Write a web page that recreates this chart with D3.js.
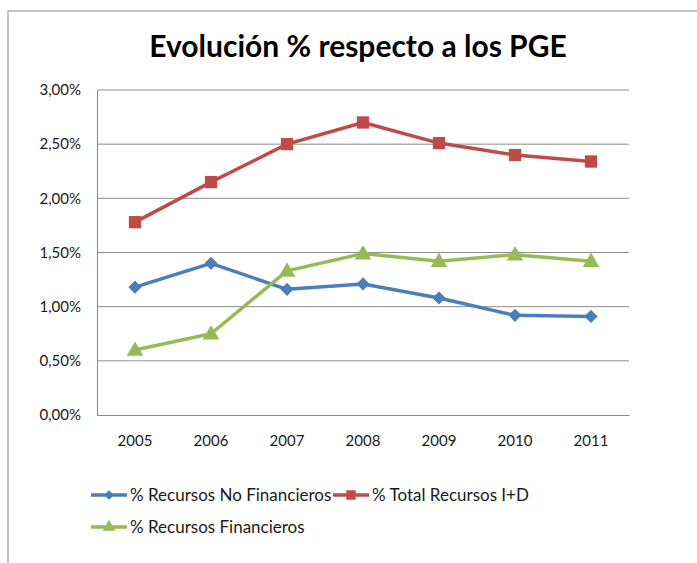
<!DOCTYPE html>
<html>
<head>
<meta charset="utf-8">
<script src="https://cdn.jsdelivr.net/npm/d3@7"></script>
<style>
  body { margin: 0; background: #fff; }
  text { font-family: Lato, "Open Sans", sans-serif; fill: #1a1a1a; }
</style>
</head>
<body>
<script>
const years = ["2005", "2006", "2007", "2008", "2009", "2010", "2011"];
const noFinancieros = [1.18, 1.40, 1.16, 1.21, 1.08, 0.92, 0.91];
const totalID = [1.78, 2.15, 2.50, 2.70, 2.51, 2.40, 2.34];
const financieros = [0.60, 0.75, 1.33, 1.49, 1.42, 1.48, 1.42];
const yTicks = [0, 0.5, 1, 1.5, 2, 2.5, 3];

const series = [
  { name: "% Recursos No Financieros", values: noFinancieros, color: "#4a7ebb", marker: "diamond" },
  { name: "% Total Recursos I+D", values: totalID, color: "#be4b48", marker: "square" },
  { name: "% Recursos Financieros", values: financieros, color: "#98b954", marker: "triangle" }
];

const width = 697, height = 563;
const plot = { left: 97, top: 90, right: 629, bottom: 415 };

const svg = d3.select("body").append("svg")
  .attr("width", width)
  .attr("height", height);

// chart frame
svg.append("rect")
  .attr("x", 8).attr("y", 11)
  .attr("width", 720).attr("height", 600)
  .attr("fill", "none")
  .attr("stroke", "#b0b0b0")
  .attr("stroke-width", 1.5);

svg.append("text")
  .attr("x", 358).attr("y", 57)
  .attr("text-anchor", "middle")
  .style("font-size", "30px")
  .style("font-weight", "bold")
  .style("fill", "#000")
  .text("Evolución % respecto a los PGE");

const x = d3.scaleBand().domain(years).range([plot.left, plot.right]);
const y = d3.scaleLinear().domain([0, 3]).range([plot.bottom, plot.top]);

const fmt = v => d3.format(".2f")(v).replace(".", ",") + "%";

// gridlines
svg.append("g").selectAll("line")
  .data(yTicks.filter(d => d > 0))
  .join("line")
  .attr("x1", plot.left).attr("x2", plot.right)
  .attr("y1", d => y(d)).attr("y2", d => y(d))
  .attr("stroke", "#8c8c8c")
  .attr("stroke-width", 1);

const yAxis = svg.append("g")
  .attr("transform", `translate(${plot.left},0)`)
  .call(d3.axisLeft(y).tickValues(yTicks).tickFormat(fmt).tickSize(0).tickPadding(16));
yAxis.select(".domain").attr("stroke", "#868686");
yAxis.selectAll("text").style("font-size", "15px").style("font-family", "Lato, sans-serif").attr("fill", "#1a1a1a");

const xAxis = svg.append("g")
  .attr("transform", `translate(0,${plot.bottom})`)
  .call(d3.axisBottom(x).tickSize(0).tickPadding(20));
xAxis.select(".domain").attr("stroke", "#868686");
xAxis.selectAll("text").style("font-size", "15px").style("font-family", "Lato, sans-serif").attr("fill", "#1a1a1a");

const cx = d => x(d) + x.bandwidth() / 2;

const symbolFor = {
  diamond: d3.symbol().type(d3.symbolDiamond2).size(110),
  square: d3.symbol().type(d3.symbolSquare).size(150),
  triangle: d3.symbol().type(d3.symbolTriangle).size(120)
};

const line = d3.line().x(d => cx(d.year)).y(d => y(d.v));

series.forEach(s => {
  const pts = years.map((yr, i) => ({ year: yr, v: s.values[i] }));
  svg.append("path")
    .datum(pts)
    .attr("d", line)
    .attr("fill", "none")
    .attr("stroke", s.color)
    .attr("stroke-width", 3.5)
    .attr("stroke-linejoin", "round");
  svg.append("g").selectAll("path")
    .data(pts)
    .join("path")
    .attr("transform", d => `translate(${cx(d.year)},${y(d.v) + (s.marker === "triangle" ? 1 : 0)})`)
    .attr("d", symbolFor[s.marker]())
    .attr("fill", s.color);
});

// legend
const legendPos = [
  { x: 91, y: 495 },
  { x: 333, y: 495 },
  { x: 91, y: 527 }
];
const legendSym = {
  diamond: d3.symbol().type(d3.symbolDiamond2).size(60),
  square: d3.symbol().type(d3.symbolSquare).size(90),
  triangle: d3.symbol().type(d3.symbolTriangle).size(70)
};
series.forEach((s, i) => {
  const g = svg.append("g").attr("transform", `translate(${legendPos[i].x},${legendPos[i].y})`);
  g.append("line").attr("x1", 0).attr("x2", 36).attr("y1", 0).attr("y2", 0)
    .attr("stroke", s.color).attr("stroke-width", 3.5);
  g.append("path").attr("transform", "translate(18,0)").attr("d", legendSym[s.marker]()).attr("fill", s.color);
  g.append("text").attr("x", 39).attr("y", 0).attr("dy", "0.35em")
    .style("font-size", "17px")
    .text(s.name);
});
</script>
</body>
</html>
